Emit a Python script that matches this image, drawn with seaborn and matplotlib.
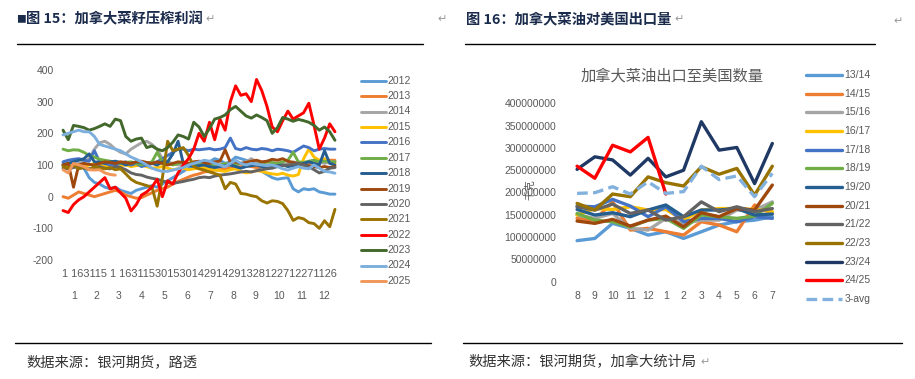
import numpy as np
import pandas as pd
import matplotlib
matplotlib.use("Agg")
import matplotlib.pyplot as plt
import seaborn as sns
from matplotlib.lines import Line2D
from matplotlib.transforms import blended_transform_factory as blend

# ---------------- data: left chart (weekly samples of the daily crush margin) -------------
YEARS = ["2012", "2013", "2014", "2015", "2016", "2017", "2018", "2019", "2020",
         "2021", "2022", "2023", "2024", "2025"]
COLORS_L = ["#5B9BD5", "#ED7D31", "#A5A5A5", "#FFC000", "#4472C4", "#70AD47", "#255E91",
            "#9E480E", "#636363", "#997300", "#FF0000", "#43682B", "#7CAFDD", "#F1975A"]
WEEKS = list(range(53))
P2012 = [105,100,95,100,90, 60,45,40,30,25, 30,20,15,10,20, 25,30,35,30,40, 50,60,70,80,90,
         95,100,105,110,120, 115,105,110,125,120, 115,110,100,80,70, 60,55,58,60,25,
         15,25,22,25,15, 12,8,8]
P2013 = [0,-5,5,15,10, 5,0,5,10,15, 20,15,5,0,-5, -3,5,12,20,25, 30,40,48,55,62,
         68,72,78,80,84, 85,88,90,92,95, 98,95,92,95,100, 98,95,100,98,100,
         105,100,105,110,108, 112,115,115]
P2014 = [100,95,100,105,110, 120,150,170,175,165, 150,140,135,150,160, 170,175,165,150,120,
         110,105,100,100,105, 100,95,100,105,100, 98,100,105,100,105, 110,120,110,105,100,
         100,95,100,105,110, 105,100,110,115,110, 105,110,110]
P2015 = [100,95,98,100,95, 100,105,100,95,100, 102,98,100,95,98, 100,95,90,92,95,
         90,85,88,90,85, 88,90,92,88,85, 82,80,85,88,80, 75,78,82,80,75,
         72,70,74,68,65, 70,120,150,125,115, 120,110,105]
P2016 = [110,115,118,120,115, 112,145,110,105,100, 100,105,110,100,105, 95,100,105,110,120,
         130,140,150,150,145, 150,148,150,152,148, 150,155,185,152,148, 155,150,148,152,150,
         145,150,148,145,140, 150,160,155,145,150, 152,150,150]
P2017 = [150,145,148,147,140, 130,125,118,115,112, 110,105,108,110,105, 100,105,110,140,110,
         105,100,105,110,105, 100,102,105,100,98, 100,105,100,102,105, 100,98,102,105,110,
         108,105,110,115,140, 110,108,112,115,110, 112,110,110]
P2018 = [100,105,110,115,120, 135,110,108,105,110, 112,108,100,105,110, 108,100,105,100,110,
         110,135,175,105,100, 95,98,100,95,92, 95,98,100,95,90, 95,98,100,95,92,
         95,98,100,95,98, 100,105,110,105,100, 145,105,100]
P2019 = [100,105,30,100,105, 102,100,105,110,108, 105,110,108,105,110, 112,108,105,110,105,
         100,105,110,108,105, 110,112,108,105,110, 112,148,108,110,105, 108,112,115,110,112,
         118,115,120,112,108, 105,100,98,95,92, 95,92,95]
P2020 = [90,88,92,95,90, 88,92,95,90,88, 95,92,85,75,70, 68,62,58,55,50,
         45,42,45,48,52, 55,60,62,60,65, 68,70,72,75,78, 80,78,82,85,88,
         90,95,98,100,102, 105,100,95,85,75, 80,90,92]
P2021 = [95,90,100,88,92, 85,95,90,88,92, 85,88,72,55,45, 40,35,30,-30,60,
         175,145,150,155,130, 95,88,84,78,73, 68,25,45,40,10, 8,3,0,-13,-20,
         -13,-15,-22,-44,-75, -66,-70,-82,-85,-100, -76,-95,-40]
P2022 = [-44,-50,-25,-10,0, 15,30,45,60,25, 30,12,-5,-45,-25, 5,15,30,55,0,
         50,40,75,100,120, 150,200,175,235,180, 245,210,300,350,320, 325,300,370,335,285,
         220,205,240,270,245, 255,265,295,225,150, 185,230,205]
P2023 = [210,180,225,222,218, 210,215,222,230,222, 245,240,190,175,182, 185,155,160,150,145,
         155,172,195,190,182, 235,220,190,215,245, 250,258,275,285,270, 255,248,258,250,240,
         200,218,250,245,238, 244,240,235,225,210, 220,205,178]
P2024 = [195,200,205,210,205, 205,190,165,160,155, 150,145,135,125,118, 110,100,90,84,80,
         80,84,88,92,100, 105,110,115,112,105, 100,95,105,115,105, 100,105,102,100,98,
         100,95,88,84,90, 95,90,88,100,90, 80,78,74]
P2025 = [85,75,105,100,95, 85,84,85,75,70, 68]
SERIES_L = [P2012, P2013, P2014, P2015, P2016, P2017, P2018, P2019, P2020,
            P2021, P2022, P2023, P2024, P2025]
Y_TICKS_L = [-200, -100, 0, 100, 200, 300, 400]
DAY_ROW = "1 163115 1 163115301530142914291328122712271126"
MONTH_DAYS = [31, 28, 31, 30, 31, 30, 31, 31, 30, 31, 30, 31]
MONTH_LABELS_L = [str(m) for m in range(1, 13)]

# ---------------- data: right chart (exports to US, kg) -------------
MONTHS_R = ["8", "9", "10", "11", "12", "1", "2", "3", "4", "5", "6", "7"]
SEASONS = ["13/14", "14/15", "15/16", "16/17", "17/18", "18/19", "19/20", "20/21",
           "21/22", "22/23", "23/24", "24/25", "3-avg"]
COLORS_R = ["#5B9BD5", "#ED7D31", "#A5A5A5", "#FFC000", "#4472C4", "#70AD47", "#255E91",
            "#9E480E", "#636363", "#997300", "#1F3864", "#FF0000", "#82B1DE"]
S1314 = [92, 97, 130.8, 119.6, 104.6, 112, 97, 112, 127, 134.5, 138, 145.7]
S1415 = [142, 138, 179, 115.8, 119.6, 112, 104.6, 134.5, 127, 112, 172, 153]
S1516 = [149.5, 142, 153, 119.6, 115.8, 142, 130.8, 138, 138, 160.7, 160.7, 179]
S1617 = [149.5, 164, 162, 168, 160.7, 162, 138, 160.7, 164, 164, 162, 157]
S1718 = [169.6, 168, 184.6, 169.6, 145.7, 168, 134.5, 142, 142, 134.5, 145.7, 142]
S1819 = [153, 138, 134.5, 123, 138, 142, 119.6, 149.5, 145.7, 142, 147, 175.6]
S1920 = [162, 149.5, 154.7, 145.7, 160.7, 172, 145.7, 160.7, 160.7, 164, 149.5, 151.7]
S2021 = [136, 130.8, 139.8, 124.8, 138, 147, 123, 154.7, 145.7, 164, 160.7, 216.7]
S2122 = [168, 160.7, 174, 153, 160.7, 138, 145.7, 179, 157, 168, 157, 164]
S2223 = [175.6, 160.7, 196.6, 190.6, 235, 222, 214.5, 257.8, 241, 254, 194, 259]
S2324 = [251.9, 280, 273, 239, 276.6, 235, 250, 358.7, 295, 301, 220, 310]
S2425 = [259, 232, 306, 291, 323.6, 196.6]
AVG3 = [198, 199.5, 213, 196.6, 224, 198, 202, 259, 229, 237, 190.6, 243]
SERIES_R = [S1314, S1415, S1516, S1617, S1718, S1819, S1920, S2021, S2122,
            S2223, S2324, S2425, AVG3]
UNIT = 1e6
Y_TICKS_R = list(range(0, 400000001, 50000000))

# ---------------- figure -------------
W, H = 915, 379
sns.set_theme(style="white")
plt.rcParams["font.family"] = ["Liberation Sans", "Noto Sans CJK SC", "DejaVu Sans"]
CJK = ["Noto Sans CJK SC", "DejaVu Sans"]
GRAY = "#595959"

fig = plt.figure(figsize=(W / 100, H / 100), dpi=100)
fig.patch.set_facecolor("white")


def fx(px):
    return px / W


def fy(py):
    return 1 - py / H


def axes_rect(x0, y0, x1, y1):
    return [fx(x0), fy(y1), fx(x1) - fx(x0), fy(y0) - fy(y1)]


# ----- headers / footers -----
fig.text(fx(16), fy(19), "■", fontsize=7, color="#1a2b4c", va="center", family=CJK)
fig.text(fx(26), fy(19), "图 15：加拿大菜籽压榨利润", fontsize=10.3, fontweight="bold",
         color="#1a2b4c", va="center", family=CJK)
fig.text(fx(205), fy(19), "↵", fontsize=8, color="#9a9a9a", va="center", family=["DejaVu Sans"])
fig.text(fx(437), fy(19), "↵", fontsize=8, color="#9a9a9a", va="center", family=["DejaVu Sans"])
fig.text(fx(466), fy(19), "图 16：加拿大菜油对美国出口量", fontsize=10.3, fontweight="bold",
         color="#1a2b4c", va="center", family=CJK)
fig.text(fx(674), fy(19), "↵", fontsize=8, color="#9a9a9a", va="center", family=["DejaVu Sans"])
fig.text(fx(893), fy(21), "↵", fontsize=8, color="#9a9a9a", va="center", family=["DejaVu Sans"])
for (a, b, y) in [(17, 423, 44), (465, 875, 44), (15, 431, 343), (463, 902, 343)]:
    fig.add_artist(Line2D([fx(a), fx(b)], [fy(y), fy(y)], color="black", lw=1.0,
                          transform=fig.transFigure))
fig.text(fx(26), fy(362), "数据来源：银河期货，路透", fontsize=10.3, color="#333333",
         va="center", family=CJK)
fig.text(fx(468), fy(362), "数据来源：银河期货，加拿大统计局", fontsize=10.3, color="#333333",
         va="center", family=CJK)
fig.text(fx(700), fy(362), "↵", fontsize=8, color="#9a9a9a", va="center", family=["DejaVu Sans"])

# ----- left chart -----
axL = fig.add_axes(axes_rect(57.8, 70, 340.2, 260))
for name, vals, col in zip(YEARS, SERIES_L, COLORS_L):
    sns.lineplot(x=WEEKS[:len(vals)], y=vals, color=col, lw=2.1, ax=axL,
                 estimator=None, legend=False)
axL.set_xlim(-1, 53)
axL.set_ylim(-200, 400)
axL.set_yticks(Y_TICKS_L)
axL.set_yticklabels([str(v) for v in Y_TICKS_L], fontsize=7.5, color=GRAY)
axL.set_xticks([])
axL.tick_params(axis="y", length=0, pad=3)
axL.set_xlabel("")
axL.set_ylabel("")
for s in axL.spines.values():
    s.set_visible(False)
axL.patch.set_alpha(0)

fig.text(fx(199), fy(274), DAY_ROW, fontsize=7.9, color=GRAY, ha="center", va="center")
starts = np.concatenate([[0], np.cumsum(MONTH_DAYS)[:-1]])
mids = (starts + np.array(MONTH_DAYS) / 2) / 7.0
trL = blend(axL.transData, fig.transFigure)
for m, lab in zip(mids, MONTH_LABELS_L):
    axL.text(m, fy(296), lab, transform=trL, fontsize=7.5, color=GRAY,
             ha="center", va="center")

# left legend
for i, (name, col) in enumerate(zip(YEARS, COLORS_L)):
    y = 80.7 + i * 15.4
    fig.add_artist(Line2D([fx(361), fx(385.5)], [fy(y), fy(y)], color=col, lw=2.1,
                          transform=fig.transFigure))
    fig.text(fx(387.5), fy(y), name, fontsize=7.5, color=GRAY, va="center")

# ----- right chart -----
axR = fig.add_axes(axes_rect(568.2, 103.3, 781.2, 281.7))
xr = np.arange(len(MONTHS_R))
for name, vals, col in zip(SEASONS, SERIES_R, COLORS_R):
    yv = np.array(vals, dtype=float) * UNIT
    ls = "--" if name == "3-avg" else "-"
    sns.lineplot(x=xr[:len(yv)], y=yv, color=col, lw=2.4, ax=axR, estimator=None,
                 legend=False, linestyle=ls)
    if ls == "--":
        axR.lines[-1].set_dashes((3.2, 1.6))
axR.set_xlim(-0.5, len(MONTHS_R) - 0.5)
axR.set_ylim(0, 400000000)
axR.set_yticks(Y_TICKS_R)
axR.set_yticklabels([str(v) for v in Y_TICKS_R], fontsize=7.5, color=GRAY)
axR.set_xticks(xr)
axR.set_xticklabels(MONTHS_R, fontsize=7.5, color=GRAY)
axR.tick_params(axis="y", length=0, pad=8.5)
axR.tick_params(axis="x", length=0, pad=6.5)
axR.set_xlabel("")
axR.set_ylabel("")
for s in axR.spines.values():
    s.set_visible(False)
axR.patch.set_alpha(0)
fig.text(fx(672), fy(76), "加拿大菜油出口至美国数量", fontsize=11, color=GRAY,
         ha="center", va="center", family=CJK)
fig.text(fx(530), fy(190), "千克", fontsize=7.5, color=GRAY, ha="center", va="center",
         rotation=90, family=CJK)

# right legend
for i, (name, col) in enumerate(zip(SEASONS, COLORS_R)):
    y = 75 + i * 18.67
    ln = Line2D([fx(806), fx(841.5)], [fy(y), fy(y)], color=col, lw=2.4,
                transform=fig.transFigure)
    if name == "3-avg":
        ln.set_dashes((3.2, 1.6))
    fig.add_artist(ln)
    fig.text(fx(844.5), fy(y), name, fontsize=7.5, color=GRAY, va="center")

fig.savefig("out.png", dpi=100, facecolor="white")
